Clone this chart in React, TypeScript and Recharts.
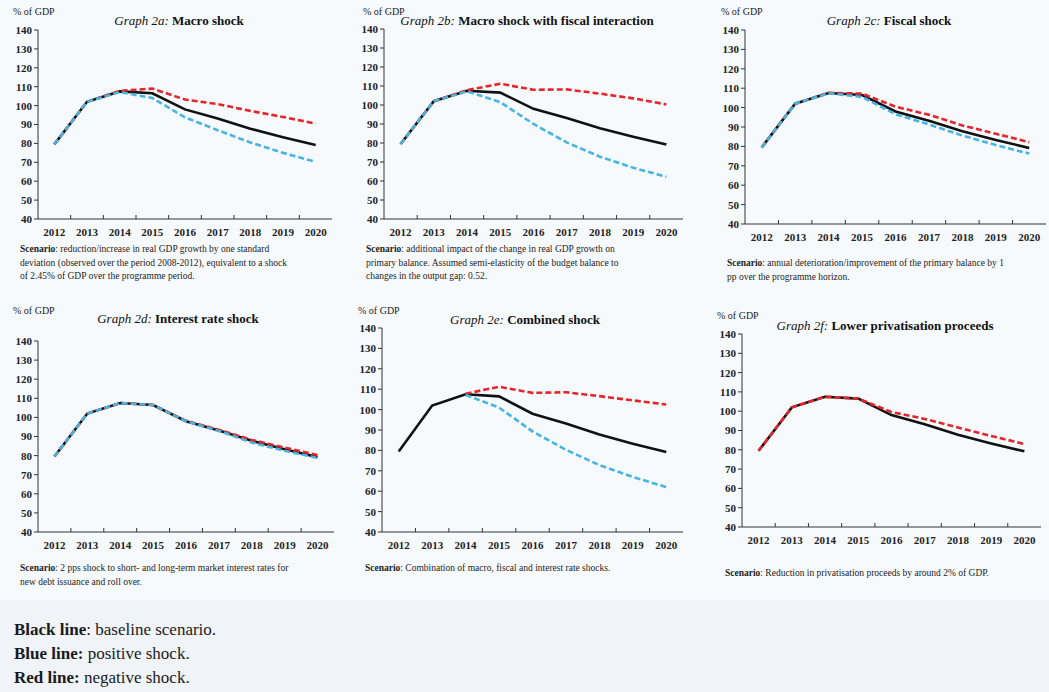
import { LineChart, Line, XAxis, YAxis } from 'recharts'

const years = ['2012', '2013', '2014', '2015', '2016', '2017', '2018', '2019', '2020']
const yTicks = [40, 50, 60, 70, 80, 90, 100, 110, 120, 130, 140]

const baseline = [79.5, 102, 107.5, 106.5, 98, 93.2, 87.8, 83.3, 79.2]

const macroUp = [79.5, 102, 107.8, 109, 103.2, 100.8, 97.2, 94, 90.5]
const macroDown = [79.5, 102, 107.2, 104, 93.8, 87, 80.5, 75, 70.2]

const fiscalMacroUp = [79.5, 102, 107.8, 111.2, 108, 108.2, 106, 103.5, 100.3]
const fiscalMacroDown = [79.5, 102, 107.2, 101.5, 90, 80.3, 72.8, 67, 62.2]

const fiscalUp = [79.5, 102, 107.6, 107.2, 100.5, 96.3, 90.8, 86.5, 82.2]
const fiscalDown = [79.5, 102, 107.4, 105.5, 96.6, 91.3, 85.6, 80.7, 76.3]

const rateUp = [79.5, 102, 107.5, 106.5, 98.2, 93.5, 88.2, 84.2, 80.3]
const rateDown = [79.5, 102, 107.5, 106.5, 98, 92.9, 86.8, 82.5, 78.8]

const combinedUp = [null, null, 107.8, 111.2, 108.2, 108.5, 106.6, 104.5, 102.5]
const combinedDown = [null, null, 107.2, 101, 89.3, 80.3, 72.8, 67, 62]

const privUp = [79.5, 102, 107.5, 106.5, 99.6, 96, 91.5, 87.2, 83]

const FONT = '"Liberation Serif", "Times New Roman", serif'
const RED = '#e2262b'
const BLUE = '#47b4e2'

type Panel = {
  id: string
  name: string
  red?: (number | null)[]
  blue?: (number | null)[]
  axisX: number
  top: number
  bottom: number
  right: number
  gdp: [number, number]
  title: [number, number]
  note: [number, number]
  scenario: string[]
}

const panels: Panel[] = [
  {
    id: '2a', name: 'Macro shock', red: macroUp, blue: macroDown,
    axisX: 38, top: 30, bottom: 219, right: 332, gdp: [13, 12], title: [179, 21], note: [20, 243],
    scenario: [': reduction/increase in real GDP growth by one standard', 'deviation (observed over the period 2008-2012), equivalent to a shock', 'of 2.45% of GDP over the programme period.'],
  },
  {
    id: '2b', name: 'Macro shock with fiscal interaction', red: fiscalMacroUp, blue: fiscalMacroDown,
    axisX: 384, top: 29, bottom: 219, right: 683, gdp: [363, 12], title: [527, 21], note: [366, 243],
    scenario: [': additional impact of the change in real GDP growth on', 'primary balance. Assumed semi-elasticity of the budget balance to', 'changes in the output gap: 0.52.'],
  },
  {
    id: '2c', name: 'Fiscal shock', red: fiscalUp, blue: fiscalDown,
    axisX: 745, top: 30, bottom: 224, right: 1046, gdp: [721, 12], title: [889, 21], note: [727, 257],
    scenario: [': annual deterioration/improvement of the primary balance by 1', 'pp over the programme horizon.'],
  },
  {
    id: '2d', name: 'Interest rate shock', red: rateUp, blue: rateDown,
    axisX: 38, top: 341, bottom: 532, right: 334, gdp: [13, 311], title: [178, 319], note: [20, 562],
    scenario: [': 2 pps shock to short- and long-term market interest rates for', 'new debt issuance and roll over.'],
  },
  {
    id: '2e', name: 'Combined shock', red: combinedUp, blue: combinedDown,
    axisX: 382, top: 328, bottom: 532, right: 683, gdp: [358, 311], title: [525, 320], note: [365, 562],
    scenario: [': Combination of macro, fiscal and interest rate shocks.'],
  },
  {
    id: '2f', name: 'Lower privatisation proceeds', red: privUp,
    axisX: 742, top: 334, bottom: 527, right: 1041, gdp: [717, 316], title: [885, 326], note: [725, 567],
    scenario: [': Reduction in privatisation proceeds by around 2% of GDP.'],
  },
]

const YW = 40
const TOPM = 6
const XH = 30

function makeTick(band: number) {
  return (props: any) => {
    const { x, y, payload, index } = props
    return (
      <g>
        {index < years.length - 1 && (
          <line x1={x + band / 2} x2={x + band / 2} y1={y} y2={y - 4} stroke="#333" strokeWidth={1} />
        )}
        <text x={x} y={y + 17} textAnchor="middle" fontSize={11} fontWeight="bold" fill="#222" fontFamily={FONT}>
          {payload.value}
        </text>
      </g>
    )
  }
}

function ShockChart({ p }: { p: Panel }) {
  const rows = years.map((year, i) => ({
    year,
    base: baseline[i],
    red: p.red ? p.red[i] : null,
    blue: p.blue ? p.blue[i] : null,
  }))
  const plotW = p.right - p.axisX
  const band = plotW / years.length
  const width = plotW + YW + 2
  const height = TOPM + (p.bottom - p.top) + XH
  return (
    <>
      <div style={{ position: 'absolute', left: p.gdp[0], top: p.gdp[1] - 6, fontSize: 10, lineHeight: '12px', color: '#222', whiteSpace: 'nowrap' }}>
        % of GDP
      </div>
      <div style={{ position: 'absolute', left: p.title[0] - 200, top: p.title[1] - 8, width: 400, textAlign: 'center', fontSize: 13, lineHeight: '16px', color: '#111', whiteSpace: 'nowrap' }}>
        <i>Graph {p.id}:</i> <b>{p.name}</b>
      </div>
      <div style={{ position: 'absolute', left: p.axisX - YW, top: p.top - TOPM }}>
        <LineChart width={width} height={height} data={rows} margin={{ top: TOPM, right: 2, bottom: 0, left: 0 }}>
          <XAxis dataKey="year" interval={0} height={XH} tickSize={0} tickMargin={0} tickLine={false}
            padding={{ left: band / 2, right: band / 2 }} stroke="#333" tick={makeTick(band)} />
          <YAxis domain={[40, 140]} ticks={yTicks} width={YW} tickSize={4} stroke="#333" interval={0}
            tick={{ fontSize: 11, fontWeight: 'bold', fill: '#222', fontFamily: FONT }} />
          <Line dataKey="base" type="linear" stroke="#111" strokeWidth={2.6} dot={false} isAnimationActive={false} />
          {p.red && (
            <Line dataKey="red" type="linear" stroke={RED} strokeWidth={2.6} strokeDasharray="6 3" dot={false} isAnimationActive={false} />
          )}
          {p.blue && (
            <Line dataKey="blue" type="linear" stroke={BLUE} strokeWidth={2.6} strokeDasharray="6 3" dot={false} isAnimationActive={false} />
          )}
        </LineChart>
      </div>
      <div style={{ position: 'absolute', left: p.note[0], top: p.note[1], fontSize: 9.5, lineHeight: '13.5px', color: '#222', whiteSpace: 'nowrap' }}>
        {p.scenario.map((line, i) => (
          <div key={i}>{i === 0 && <b>Scenario</b>}{line}</div>
        ))}
      </div>
    </>
  )
}

export default function App() {
  return (
    <div style={{ position: 'absolute', left: 0, top: 0, width: 1049, height: 692, background: '#f7fafd', fontFamily: FONT, overflow: 'hidden' }}>
      <div style={{ position: 'absolute', left: 0, top: 600, width: 1049, height: 92, background: '#f0f4f8' }} />
      {panels.map(p => <ShockChart key={p.id} p={p} />)}
      <div style={{ position: 'absolute', left: 14, top: 618, fontSize: 17, lineHeight: '24px', color: '#1a1a1a', whiteSpace: 'nowrap' }}>
        <div><b>Black line</b>: baseline scenario.</div>
        <div><b>Blue line:</b> positive shock.</div>
        <div><b>Red line:</b> negative shock.</div>
      </div>
    </div>
  )
}
